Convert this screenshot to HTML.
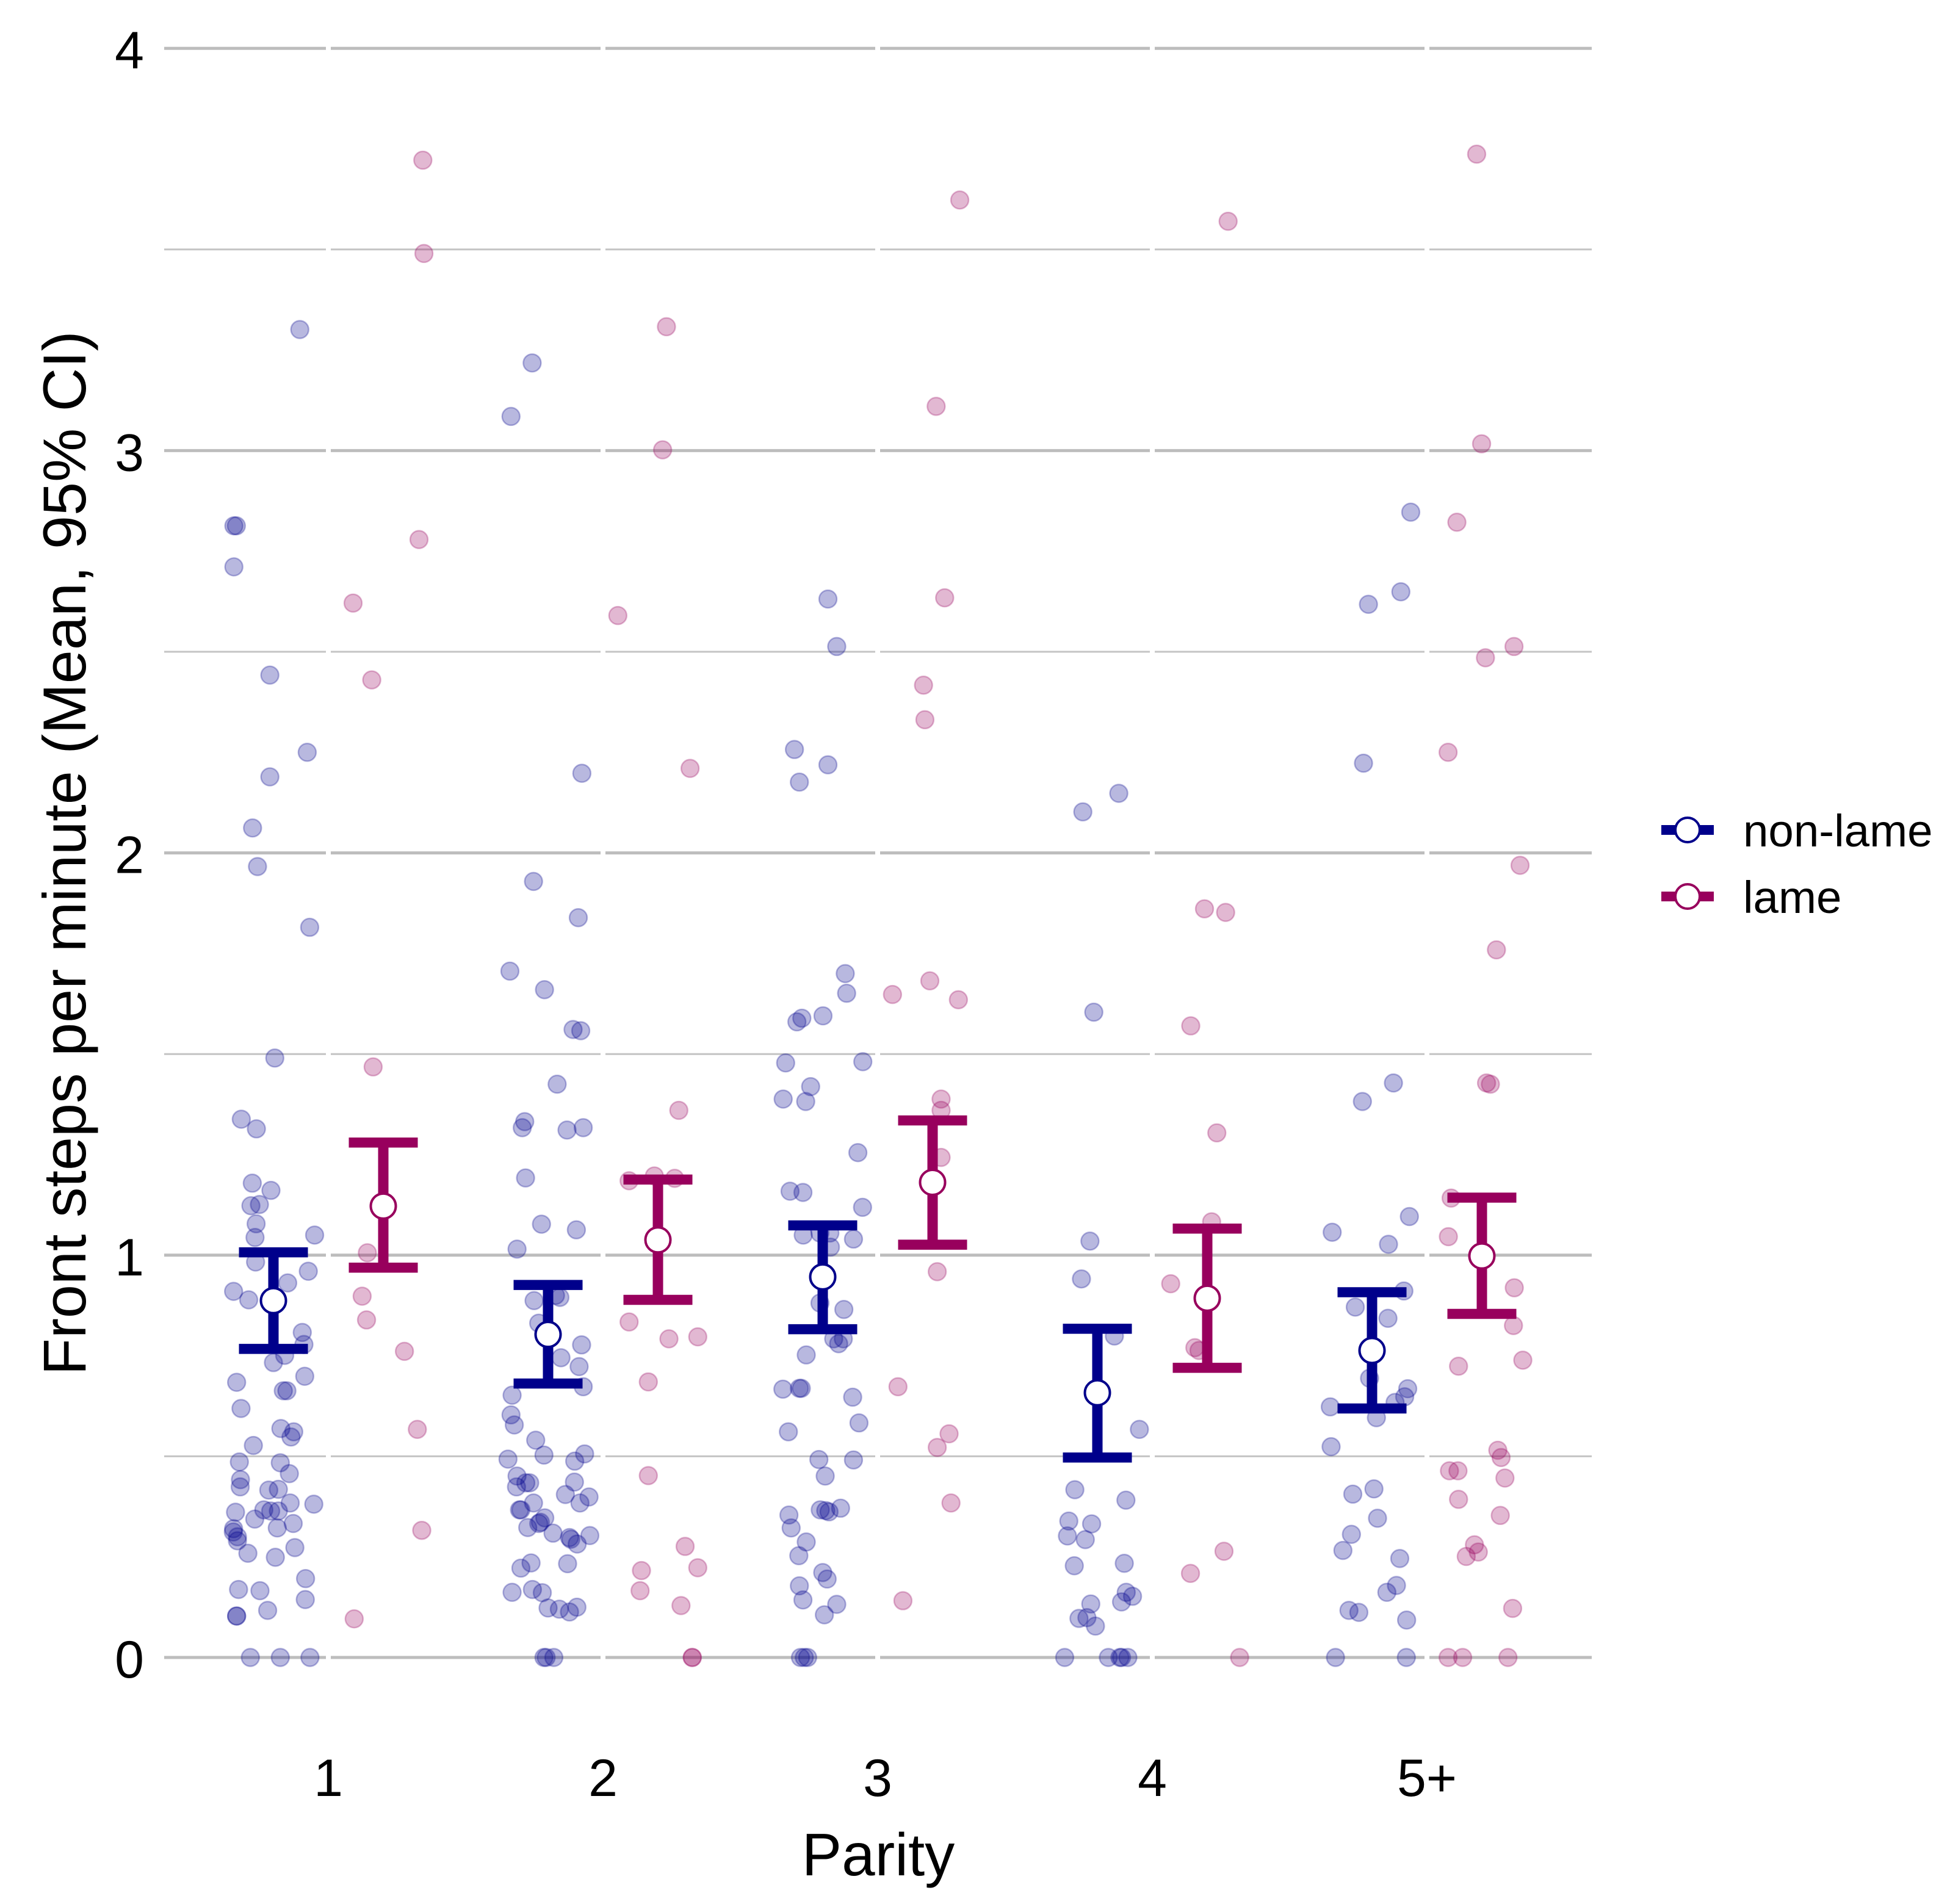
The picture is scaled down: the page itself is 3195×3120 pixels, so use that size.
<!DOCTYPE html>
<html lang="en">
<head>
<meta charset="utf-8">
<title>Front steps per minute by parity</title>
<style>
html,body{margin:0;padding:0;background:#fff;}
svg{display:block;font-family:"Liberation Sans",sans-serif;}
</style>
</head>
<body>
<svg id="chart" xmlns="http://www.w3.org/2000/svg" width="3195" height="3120" viewBox="0 0 3195 3120">
  <rect x="0" y="0" width="3195" height="3120" fill="#ffffff"/>
  <g id="grid"></g>
  <g id="points"></g>
  <g id="bars"></g>
  <g id="yticks"></g>
  <g id="xticks"></g>
  <text x="1439" y="3073" font-size="98" text-anchor="middle" fill="#000">Parity</text>
  <text transform="translate(140,1398) rotate(-90)" font-size="99" text-anchor="middle" fill="#000">Front steps per minute (Mean, 95% CI)</text>
  <g id="legend"></g>
</svg>
<script>
const categories = ["1","2","3","4","5+"];
const yTickLabels = [0,1,2,3,4];
const yMinorTicks = [0.5,1.5,2.5,3.5];
const seriesNames = ["non-lame","lame"];

const nonLameMean = [0.887,0.803,0.946,0.658,0.763];
const nonLameLower = [0.767,0.681,0.816,0.497,0.619];
const nonLameUpper = [1.007,0.926,1.074,0.817,0.908];
const lameMean = [1.122,1.038,1.181,0.893,0.998];
const lameLower = [0.969,0.889,1.026,0.720,0.854];
const lameUpper = [1.280,1.188,1.335,1.066,1.143];

const nonLameJitter1 = [-0.335,-0.344,-0.344,-0.104,-0.213,-0.077,-0.213,-0.276,-0.258,-0.068,-0.195,-0.317,-0.262,-0.277,-0.209,-0.282,-0.251,-0.263,-0.267,-0.050,-0.265,-0.073,-0.148,-0.345,-0.290,-0.095,-0.089,-0.159,-0.200,-0.086,-0.334,-0.164,-0.151,-0.318,-0.173,-0.126,-0.136,-0.273,-0.324,-0.175,-0.142,-0.320,-0.321,-0.217,-0.182,-0.139,-0.053,-0.235,-0.210,-0.182,-0.338,-0.268,-0.345,-0.346,-0.331,-0.331,-0.186,-0.128,-0.293,-0.193,-0.122,-0.083,-0.327,-0.249,-0.084,-0.221,-0.334,-0.334,-0.284,-0.175,-0.067];
const nonLameValues1 = [2.813,2.813,2.711,3.301,2.442,2.250,2.189,2.062,1.966,1.815,1.490,1.338,1.314,1.179,1.161,1.123,1.126,1.078,1.044,1.050,0.983,0.960,0.931,0.910,0.889,0.808,0.778,0.751,0.733,0.699,0.684,0.663,0.663,0.619,0.569,0.561,0.548,0.527,0.486,0.484,0.457,0.442,0.424,0.416,0.418,0.384,0.381,0.367,0.364,0.364,0.361,0.344,0.320,0.312,0.300,0.290,0.322,0.333,0.259,0.249,0.273,0.196,0.169,0.166,0.144,0.117,0.103,0.103,0,0,0];

const nonLameJitter2 = [-0.258,-0.335,-0.077,-0.253,-0.090,-0.339,-0.213,-0.109,-0.081,-0.167,-0.285,-0.294,-0.131,-0.072,-0.282,-0.224,-0.097,-0.313,-0.251,-0.173,-0.157,-0.234,-0.078,-0.153,-0.087,-0.072,-0.331,-0.335,-0.323,-0.245,-0.215,-0.346,-0.067,-0.103,-0.313,-0.315,-0.267,-0.281,-0.104,-0.137,-0.051,-0.084,-0.253,-0.304,-0.299,-0.212,-0.234,-0.228,-0.274,-0.182,-0.048,-0.117,-0.122,-0.094,-0.262,-0.299,-0.129,-0.331,-0.257,-0.221,-0.200,-0.159,-0.122,-0.095,-0.215,-0.207,-0.179];
const nonLameValues2 = [3.218,3.085,2.198,1.929,1.839,1.706,1.660,1.561,1.558,1.425,1.332,1.317,1.311,1.317,1.192,1.077,1.063,1.015,0.887,0.900,0.895,0.831,0.777,0.745,0.723,0.673,0.652,0.603,0.578,0.540,0.503,0.493,0.506,0.488,0.451,0.424,0.434,0.434,0.436,0.405,0.399,0.384,0.384,0.367,0.367,0.347,0.333,0.336,0.323,0.309,0.303,0.294,0.298,0.282,0.235,0.222,0.233,0.162,0.169,0.161,0.123,0.120,0.113,0.125,0,0,0];

const nonLameJitter3 = [-0.181,-0.149,-0.303,-0.181,-0.285,-0.118,-0.113,-0.199,-0.276,-0.294,-0.335,-0.054,-0.244,-0.344,-0.262,-0.072,-0.319,-0.272,-0.055,-0.271,-0.210,-0.174,-0.172,-0.088,-0.210,-0.123,-0.160,-0.125,-0.142,-0.260,-0.345,-0.285,-0.278,-0.091,-0.068,-0.325,-0.214,-0.088,-0.191,-0.209,-0.189,-0.177,-0.135,-0.323,-0.315,-0.260,-0.287,-0.200,-0.184,-0.285,-0.272,-0.149,-0.194,-0.281,-0.267,-0.255];
const nonLameValues3 = [2.631,2.513,2.257,2.219,2.176,1.700,1.651,1.595,1.589,1.580,1.478,1.481,1.419,1.388,1.382,1.255,1.159,1.156,1.119,1.050,1.055,1.055,1.020,1.040,0.881,0.865,0.792,0.792,0.780,0.752,0.667,0.669,0.669,0.647,0.583,0.561,0.492,0.491,0.451,0.367,0.365,0.362,0.371,0.354,0.322,0.287,0.253,0.211,0.195,0.178,0.143,0.132,0.106,0,0,0];

const nonLameJitter4 = [-0.253,-0.122,-0.213,-0.227,-0.258,-0.138,-0.047,-0.282,-0.096,-0.304,-0.221,-0.309,-0.244,-0.284,-0.102,-0.095,-0.112,-0.072,-0.224,-0.267,-0.238,-0.207,-0.319,-0.160,-0.118,-0.112,-0.089];
const nonLameValues4 = [2.102,2.148,1.604,1.035,0.941,0.799,0.567,0.417,0.391,0.339,0.332,0.302,0.293,0.228,0.234,0.162,0.138,0.152,0.133,0.097,0.099,0.078,0,0,0,0,0];

const nonLameJitter5 = [-0.059,-0.095,-0.213,-0.231,-0.122,-0.235,-0.345,-0.064,-0.140,-0.084,-0.261,-0.142,-0.209,-0.070,-0.081,-0.116,-0.352,-0.184,-0.349,-0.193,-0.270,-0.180,-0.275,-0.306,-0.099,-0.111,-0.146,-0.284,-0.248,-0.074,-0.333,-0.075];
const nonLameValues5 = [2.847,2.649,2.618,2.223,1.428,1.382,1.057,1.096,1.027,0.911,0.871,0.843,0.694,0.668,0.648,0.634,0.623,0.596,0.524,0.419,0.406,0.346,0.306,0.266,0.246,0.179,0.162,0.117,0.112,0.093,0,0];

const lameJitter1 = [0.344,0.348,0.330,0.090,0.158,0.163,0.142,0.123,0.139,0.277,0.324,0.340,0.094];
const lameValues1 = [3.722,3.490,2.779,2.621,2.430,1.468,1.006,0.898,0.839,0.761,0.567,0.316,0.096];

const lameJitter2 = [0.231,0.217,0.054,0.317,0.276,0.095,0.187,0.261,0.095,0.240,0.345,0.165,0.165,0.299,0.345,0.140,0.135,0.284,0.325,0.325];
const lameValues2 = [3.308,3.002,2.590,2.210,1.360,1.185,1.197,1.191,0.834,0.792,0.797,0.685,0.452,0.276,0.223,0.216,0.166,0.129,0,0];

const lameJitter3 = [0.299,0.213,0.244,0.167,0.172,0.054,0.190,0.294,0.231,0.231,0.231,0.217,0.074,0.260,0.217,0.267,0.092];
const lameValues3 = [3.623,3.110,2.634,2.417,2.331,1.648,1.682,1.635,1.388,1.360,1.243,0.959,0.673,0.556,0.522,0.384,0.141];

const lameJitter4 = [0.276,0.190,0.267,0.140,0.235,0.216,0.067,0.155,0.170,0.261,0.139,0.318];
const lameValues4 = [3.570,1.861,1.852,1.570,1.304,1.083,0.929,0.770,0.763,0.264,0.209,0];

const lameJitter5 = [0.181,0.199,0.109,0.213,0.317,0.077,0.339,0.253,0.217,0.231,0.088,0.078,0.318,0.315,0.115,0.349,0.258,0.270,0.082,0.113,0.284,0.115,0.267,0.173,0.187,0.143,0.312,0.077,0.130,0.295];
const lameValues5 = [3.737,3.017,2.822,2.485,2.513,2.250,1.969,1.759,1.428,1.425,1.142,1.046,0.919,0.825,0.724,0.739,0.515,0.497,0.464,0.464,0.446,0.393,0.353,0.280,0.262,0.251,0.122,0,0,0];

const NAVY = "#00008b";
const WINE = "#98005d";
const NS = "http://www.w3.org/2000/svg";

function xScale(pos){ return 538 + (pos - 1) * 450; }
function yScale(v){ return 2716 - v * 659.2; }

function make(parent, tag, attrs){
  const el = document.createElementNS(NS, tag);
  for (const k in attrs) el.setAttribute(k, attrs[k]);
  parent.appendChild(el);
  return el;
}

const gridG = document.getElementById("grid");
yTickLabels.forEach(function(v){
  const line = make(gridG, "line", {x1:269, x2:2608, y1:yScale(v), y2:yScale(v), stroke:"#bdbdbd", "stroke-width":5});
  
  
});
yMinorTicks.forEach(function(v){
  const line = make(gridG, "line", {x1:269, x2:2608, y1:yScale(v), y2:yScale(v), stroke:"#c4c4c4", "stroke-width":3});
  
  
});
categories.forEach(function(c, i){
  const line = make(gridG, "line", {x1:xScale(i + 1), x2:xScale(i + 1), y1:60, y2:2740, stroke:"#ffffff", "stroke-width":8});
  
  
});

const pointsG = document.getElementById("points");
function drawPoints(cat, jitter, values, color, dodgeName){
  values.forEach(function(v, i){
    const dot = make(pointsG, "circle", {
      cx: xScale(cat + jitter[i]), cy: yScale(v), r: 14.5,
      fill: color, "fill-opacity": 0.28,
      stroke: color, "stroke-opacity": 0.28, "stroke-width": 2.5
    });
    
    
  });
}
drawPoints(1, nonLameJitter1, nonLameValues1, NAVY, "non-lame-point");
drawPoints(2, nonLameJitter2, nonLameValues2, NAVY, "non-lame-point");
drawPoints(3, nonLameJitter3, nonLameValues3, NAVY, "non-lame-point");
drawPoints(4, nonLameJitter4, nonLameValues4, NAVY, "non-lame-point");
drawPoints(5, nonLameJitter5, nonLameValues5, NAVY, "non-lame-point");
drawPoints(1, lameJitter1, lameValues1, WINE, "lame-point");
drawPoints(2, lameJitter2, lameValues2, WINE, "lame-point");
drawPoints(3, lameJitter3, lameValues3, WINE, "lame-point");
drawPoints(4, lameJitter4, lameValues4, WINE, "lame-point");
drawPoints(5, lameJitter5, lameValues5, WINE, "lame-point");

const barsG = document.getElementById("bars");
function drawBars(dodge, means, lowers, uppers, color, name){
  means.forEach(function(m, i){
    const cx = xScale(i + 1 + dodge);
    const g = make(barsG, "g", {});
    
    
    make(g, "line", {x1:cx, x2:cx, y1:yScale(lowers[i]), y2:yScale(uppers[i]), stroke:color, "stroke-width":17});
    make(g, "line", {x1:cx - 56.5, x2:cx + 56.5, y1:yScale(uppers[i]), y2:yScale(uppers[i]), stroke:color, "stroke-width":16.5});
    make(g, "line", {x1:cx - 56.5, x2:cx + 56.5, y1:yScale(lowers[i]), y2:yScale(lowers[i]), stroke:color, "stroke-width":16.5});
    make(g, "circle", {cx:cx, cy:yScale(m), r:20.5, fill:"#ffffff", stroke:color, "stroke-width":4});
  });
}
drawBars(-0.2, nonLameMean, nonLameLower, nonLameUpper, NAVY, "non-lame");
drawBars(0.2, lameMean, lameLower, lameUpper, WINE, "lame");

const yTicksG = document.getElementById("yticks");
yTickLabels.forEach(function(v){
  const t = make(yTicksG, "text", {x:236, y:yScale(v) + 33, "font-size":86, "text-anchor":"end", fill:"#000"});
  
  
  t.textContent = String(v);
});

const xTicksG = document.getElementById("xticks");
categories.forEach(function(c, i){
  const t = make(xTicksG, "text", {x:xScale(i + 1), y:2943, "font-size":86, "text-anchor":"middle", fill:"#000"});
  
  
  t.textContent = c;
});

const legendG = document.getElementById("legend");
const legendColors = [NAVY, WINE];
seriesNames.forEach(function(name, i){
  const cy = 1360 + i * 109;
  const entry = make(legendG, "g", {});
  
  
  make(entry, "line", {x1:2722, x2:2808, y1:cy, y2:cy, stroke:legendColors[i], "stroke-width":16});
  make(entry, "circle", {cx:2765, cy:cy, r:20, fill:"#ffffff", stroke:legendColors[i], "stroke-width":4});
  const t = make(entry, "text", {x:2856, y:cy + 27, "font-size":74.5, fill:"#000"});
  t.textContent = name;
});
</script>
</body>
</html>
